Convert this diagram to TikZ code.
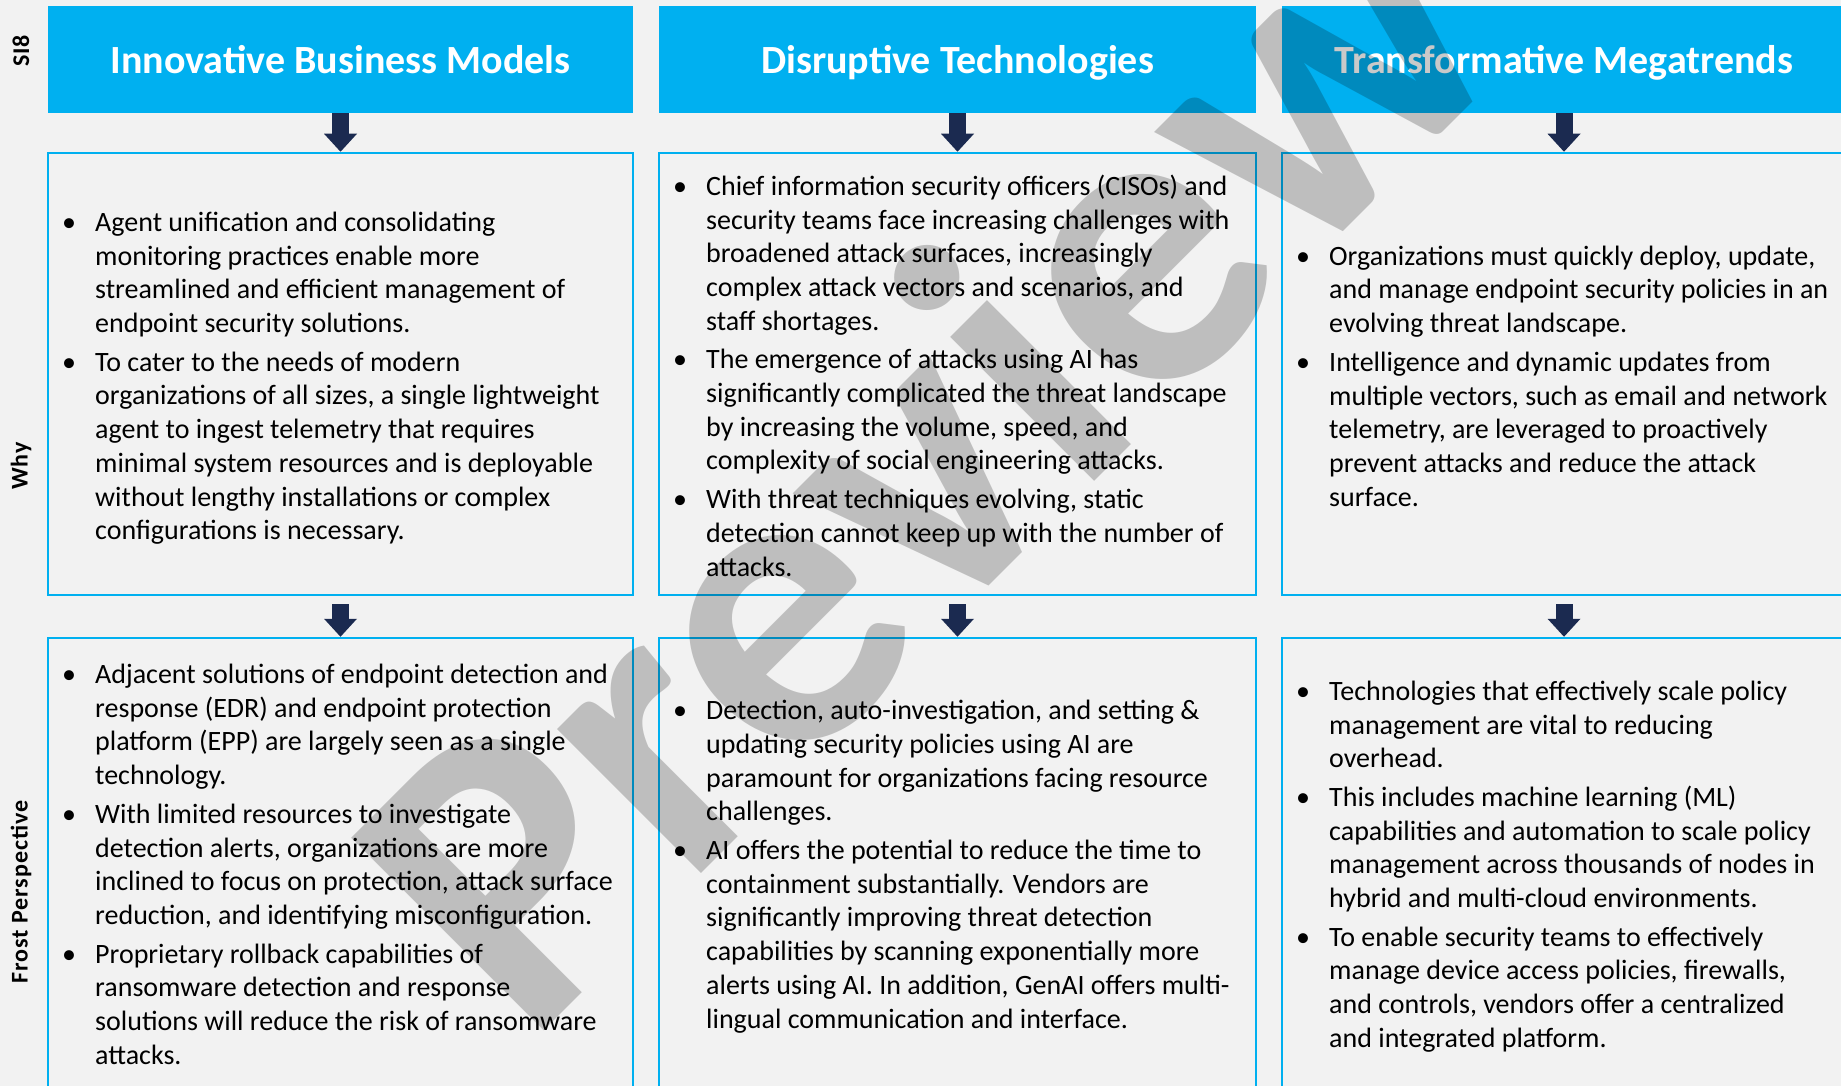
\documentclass[tikz,border=0pt]{standalone}
\usepackage{fontspec}
\setmainfont{Carlito}
\newfontfamily\lblfont[LetterSpace=4]{Carlito}
\usetikzlibrary{arrows.meta}
\definecolor{hdrblue}{HTML}{00B0F0}
\definecolor{navyarrow}{HTML}{1B2A50}
\definecolor{paper}{HTML}{F2F2F2}
\newcommand{\bul}{\makebox[26pt][l]{\makebox[0pt][c]{•}}}
\newcommand{\ind}{\hspace*{26pt}}
\tikzset{
  hdr/.style={fill=hdrblue, draw=none, minimum height=107pt, inner sep=0pt, text=white,
    text height=28pt, text depth=0pt,
    font=\fontsize{40pt}{48pt}\selectfont\bfseries},
  panel/.style={draw=hdrblue, line width=2.5pt, inner sep=0pt},
  arr/.style={navyarrow, line width=17pt, -{Triangle[width=33pt,length=18pt,line width=0pt]}},
  lbl/.style={rotate=90, inner sep=0pt, font=\lblfont\fontsize{24pt}{28pt}\selectfont\bfseries},
  txt/.style={anchor=base west, inner sep=0pt, align=left, text=black,
    font=\fontsize{28pt}{33.7pt}\selectfont},
  wmark/.style={rotate=45, inner sep=0pt, text=black, text opacity=0.21,
    font=\fontsize{420pt}{420pt}\selectfont\bfseries}
}
\begin{document}
\begin{tikzpicture}[x=1pt,y=-1pt]
\fill[paper] (0,0) rectangle (1841,1086);
\useasboundingbox (0,0) rectangle (1841,1086);
\begin{scope}
\clip (0,0) rectangle (1841,1086);
% headers
\node[hdr, minimum width=585pt] (h1) at (340.5,59.5) {Innovative Business Models};
\node[hdr, minimum width=597pt] (h2) at (957.5,59.5) {Disruptive Technologies};
\node[hdr, minimum width=564pt] (h3) at (1564,59.5) {Transformative Megatrends};
% why panels
\node[panel, minimum width=585pt, minimum height=442pt] (w1) at (340.5,374) {};
\node[panel, minimum width=597pt, minimum height=442pt] (w2) at (957.5,374) {};
\node[panel, minimum width=564pt, minimum height=442pt] (w3) at (1564,374) {};
% frost panels
\node[panel, minimum width=585pt, minimum height=454pt] (f1) at (340.5,865) {};
\node[panel, minimum width=597pt, minimum height=454pt] (f2) at (957.5,865) {};
\node[panel, minimum width=564pt, minimum height=454pt] (f3) at (1564,865) {};
% arrows
\draw[arr] (h1.south) -- (w1.north);
\draw[arr] (h2.south) -- (w2.north);
\draw[arr] (h3.south) -- (w3.north);
\draw[arr, shorten <=8pt] (w1.south) -- (f1.north);
\draw[arr, shorten <=8pt] (w2.south) -- (f2.north);
\draw[arr, shorten <=8pt] (w3.south) -- (f3.north);
% side labels
\node[lbl] (ls) at (21,51) {SI8};
\node[lbl] (lw) at (21,466) {Why};
\node[lbl] (lf) at (21,892) {Frost Perspective};
% why texts (anchored at the baseline of the last line)
\node[txt] (tw1) at (69,539.7) {\bul Agent unification and consolidating\\
\ind monitoring practices enable more\\
\ind streamlined and efficient management of\\
\ind endpoint security solutions.\\[5pt]
\bul To cater to the needs of modern\\
\ind organizations of all sizes, a single lightweight\\
\ind agent to ingest telemetry that requires\\
\ind minimal system resources and is deployable\\
\ind without lengthy installations or complex\\
\ind configurations is necessary.};
\node[txt] (tw2) at (680,576.0) {\bul Chief information security officers (CISOs) and\\
\ind security teams face increasing challenges with\\
\ind broadened attack surfaces, increasingly\\
\ind complex attack vectors and scenarios, and\\
\ind staff shortages.\\[5pt]
\bul The emergence of attacks using AI has\\
\ind significantly complicated the threat landscape\\
\ind by increasing the volume, speed, and\\
\ind complexity of social engineering attacks.\\[5pt]
\bul With threat techniques evolving, static\\
\ind detection cannot keep up with the number of\\
\ind attacks.};
\node[txt] (tw3) at (1303,506.1) {\bul Organizations must quickly deploy, update,\\
\ind and manage endpoint security policies in an\\
\ind evolving threat landscape.\\[5pt]
\bul Intelligence and dynamic updates from\\
\ind multiple vectors, such as email and network\\
\ind telemetry, are leveraged to proactively\\
\ind prevent attacks and reduce the attack\\
\ind surface.};
% frost texts
\node[txt] (tf1) at (69,1064.2) {\bul Adjacent solutions of endpoint detection and\\
\ind response (EDR) and endpoint protection\\
\ind platform (EPP) are largely seen as a single\\
\ind technology.\\[5pt]
\bul With limited resources to investigate\\
\ind detection alerts, organizations are more\\
\ind inclined to focus on protection, attack surface\\
\ind reduction, and identifying misconfiguration.\\[5pt]
\bul Proprietary rollback capabilities of\\
\ind ransomware detection and response\\
\ind solutions will reduce the risk of ransomware\\
\ind attacks.};
\node[txt] (tf2) at (680,1028.0) {\bul Detection, auto-investigation, and setting \&\\
\ind updating security policies using AI are\\
\ind paramount for organizations facing resource\\
\ind challenges.\\[5pt]
\bul AI offers the potential to reduce the time to\\
\ind containment substantially. Vendors are\\
\ind significantly improving threat detection\\
\ind capabilities by scanning exponentially more\\
\ind alerts using AI. In addition, GenAI offers multi-\\
\ind lingual communication and interface.};
\node[txt] (tf3) at (1303,1047.3) {\bul Technologies that effectively scale policy\\
\ind management are vital to reducing\\
\ind overhead.\\[5pt]
\bul This includes machine learning (ML)\\
\ind capabilities and automation to scale policy\\
\ind management across thousands of nodes in\\
\ind hybrid and multi-cloud environments.\\[5pt]
\bul To enable security teams to effectively\\
\ind manage device access policies, firewalls,\\
\ind and controls, vendors offer a centralized\\
\ind and integrated platform.};
% watermark
\node[wmark] (wm) at (920,449) {Preview};
\end{scope}
\end{tikzpicture}
\end{document}
